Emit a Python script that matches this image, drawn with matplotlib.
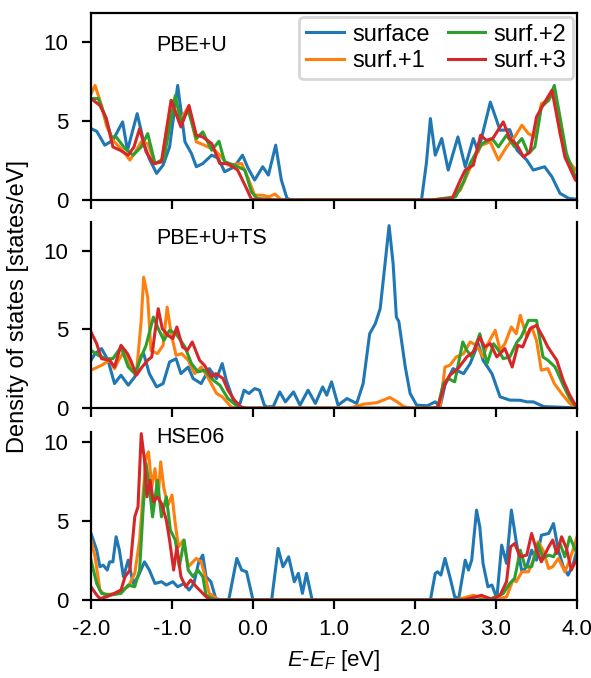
import matplotlib
matplotlib.use("Agg")
import matplotlib.pyplot as plt

plt.rcParams['font.family'] = ['Liberation Sans', 'DejaVu Sans']
plt.rcParams['mathtext.fontset'] = 'custom'
plt.rcParams['mathtext.rm'] = 'Liberation Sans'
plt.rcParams['mathtext.it'] = 'Liberation Sans:italic'

series_names = ["surface", "surf.+1", "surf.+2", "surf.+3"]
panel_names = ["PBE+U", "PBE+U+TS", "HSE06"]
x_ticks = [-2, -1, 0, 1, 2, 3, 4]
x_tick_labels = ["-2.0", "-1.0", "0.0", "1.0", "2.0", "3.0", "4.0"]
y_ticks = [0, 5, 10]

# ---- PBE+U ----
pbeu_surf_E = [-2.0, -1.93, -1.83, -1.73, -1.61, -1.55, -1.43, -1.34, -1.28, -1.19, -1.11, -1.03, -0.93, -0.84,
               -0.76, -0.70, -0.62, -0.51, -0.43, -0.35, -0.23, -0.13, -0.06, 0.02, 0.12, 0.19, 0.28, 0.35, 0.42,
               0.48, 2.08, 2.14, 2.19, 2.25, 2.33, 2.41, 2.53, 2.62, 2.72, 2.78, 2.93, 3.05, 3.17, 3.26, 3.38,
               3.46, 3.60, 3.69, 3.79, 3.90, 4.0]
pbeu_surf = [4.5, 4.34, 3.46, 3.77, 4.93, 3.14, 5.45, 3.46, 2.6, 1.68, 2.2, 3.35, 7.23, 3.67, 2.93, 2.1, 2.3, 2.83,
             2.64, 1.78, 2.1, 2.83, 2.0, 1.26, 2.1, 1.57, 3.46, 1.26, 0.1, 0.0, 0.0, 2.3, 5.14, 2.83, 3.88, 1.89,
             3.98, 2.1, 3.88, 3.04, 6.18, 4.4, 4.44, 3.14, 2.52, 1.89, 2.1, 1.47, 0.42, 0.1, 0.05]

pbeu_s1_E = [-2.0, -1.95, -1.87, -1.81, -1.73, -1.63, -1.52, -1.44, -1.38, -1.30, -1.21, -1.13, -1.01, -0.91, -0.80,
             -0.70, -0.60, -0.47, -0.39, -0.31, -0.14, -0.06, 0.02, 0.12, 0.20, 0.27, 0.35, 2.20, 2.40, 2.47, 2.56,
             2.66, 2.74, 2.82, 2.93, 3.03, 3.13, 3.23, 3.32, 3.40, 3.48, 3.56, 3.65, 3.71, 3.79, 3.87, 3.98, 4.0]
pbeu_s1 = [6.7, 7.23, 5.97, 4.7, 3.77, 3.25, 2.52, 3.14, 3.67, 3.56, 2.3, 2.41, 6.29, 4.93, 5.87, 3.67, 3.46, 3.14,
           2.72, 2.2, 2.3, 1.36, 0.31, 0.3, 0.2, 0.38, 0.0, 0.0, 0.1, 0.2, 0.63, 1.78, 2.72, 3.46, 3.67, 2.52, 3.35,
           3.98, 4.72, 4.19, 3.98, 6.08, 6.3, 6.81, 4.19, 2.62, 1.93, 1.85]

pbeu_s2_E = [-2.0, -1.91, -1.83, -1.75, -1.69, -1.58, -1.48, -1.38, -1.30, -1.21, -1.10, -0.96, -0.89, -0.80, -0.70,
             -0.62, -0.51, -0.42, -0.35, -0.23, -0.10, -0.02, 0.05, 0.3, 2.20, 2.50, 2.60, 2.68, 2.76, 2.83, 2.95,
             3.03, 3.13, 3.23, 3.32, 3.40, 3.48, 3.56, 3.65, 3.72, 3.79, 3.87, 3.98, 4.0]
pbeu_s2 = [6.4, 6.4, 5.35, 3.98, 3.98, 3.25, 2.83, 3.35, 4.19, 2.3, 2.6, 6.6, 4.93, 5.66, 3.88, 4.3, 3.14, 3.71,
           2.41, 2.2, 1.89, 0.52, 0.1, 0.0, 0.0, 0.2, 1.15, 2.3, 3.04, 3.56, 3.88, 3.35, 4.09, 3.35, 3.88, 2.93,
           3.35, 5.87, 6.3, 7.23, 5.24, 2.93, 1.47, 1.4]

pbeu_s3_E = [-2.0, -1.89, -1.81, -1.73, -1.64, -1.54, -1.47, -1.40, -1.32, -1.23, -1.13, -1.01, -0.89, -0.79, -0.70,
             -0.62, -0.51, -0.41, -0.31, -0.19, -0.08, -0.02, 0.3, 2.20, 2.46, 2.56, 2.62, 2.72, 2.81, 2.88, 2.96,
             3.09, 3.17, 3.26, 3.34, 3.42, 3.50, 3.59, 3.69, 3.77, 3.85, 3.98, 4.0]
pbeu_s3 = [6.4, 5.97, 5.14, 3.35, 3.14, 2.83, 3.35, 4.5, 3.04, 2.3, 2.41, 6.29, 4.61, 5.97, 4.09, 3.98, 3.56, 2.3,
           2.3, 1.89, 0.73, 0.05, 0.0, 0.0, 0.1, 1.26, 1.89, 2.2, 4.09, 3.77, 3.88, 4.93, 3.88, 3.46, 2.72, 3.04,
           5.24, 6.08, 6.92, 4.82, 2.72, 1.26, 1.2]

# ---- PBE+U+TS ----
ts_surf_E = [-2.0, -1.95, -1.87, -1.79, -1.71, -1.63, -1.54, -1.46, -1.38, -1.35, -1.28, -1.19, -1.11, -1.03, -0.95,
             -0.89, -0.80, -0.74, -0.64, -0.54, -0.45, -0.38, -0.33, -0.23, -0.16, -0.11, -0.05, 0.02, 0.08, 0.14,
             0.17, 0.25, 0.33, 0.40, 0.50, 0.58, 0.68, 0.77, 0.86, 0.91, 0.97, 1.05, 1.16, 1.28, 1.36, 1.44, 1.51,
             1.57, 1.63, 1.68, 1.73, 1.77, 1.80, 1.88, 1.94, 2.02, 2.15, 2.25, 2.31, 2.37, 2.47, 2.60, 2.68, 2.78,
             2.84, 2.95, 3.05, 3.17, 3.30, 3.38, 3.46, 3.59, 3.84, 4.0]
ts_surf = [3.04, 3.46, 3.78, 3.04, 1.56, 2.09, 1.46, 1.98, 3.35, 3.46, 2.19, 1.35, 1.56, 2.93, 3.14, 2.19, 2.61,
           1.88, 1.56, 2.51, 1.88, 2.83, 1.77, 0.3, 0.3, 1.14, 0.93, 1.24, 1.14, 0.19, 0.08, 0.1, 1.03, 0.4, 1.03,
           0.19, 1.14, 0.3, 1.35, 0.82, 1.67, 0.19, 0.61, 0.3, 1.56, 4.72, 5.36, 6.31, 9.16, 11.58, 9.16, 5.78,
           5.5, 2.61, 0.93, 0.19, 0.15, 0.4, 0.1, 1.46, 2.51, 2.19, 2.82, 4.09, 3.04, 2.19, 0.72, 0.51, 0.5, 0.4,
           0.4, 0.1, 0.05, 0.02]

ts_s1_E = [-2.0, -1.87, -1.77, -1.71, -1.65, -1.58, -1.52, -1.44, -1.38, -1.35, -1.30, -1.26, -1.18, -1.11, -1.06,
           -1.01, -0.95, -0.88, -0.80, -0.72, -0.64, -0.56, -0.45, -0.38, -0.27, -0.2, 1.2, 1.36, 1.53, 1.69, 1.78,
           1.86, 1.95, 2.25, 2.31, 2.37, 2.43, 2.51, 2.60, 2.68, 2.76, 2.84, 2.89, 2.99, 3.05, 3.11, 3.19, 3.25,
           3.30, 3.38, 3.44, 3.50, 3.56, 3.64, 3.72, 3.81, 3.91, 4.0]
ts_s1 = [2.41, 2.72, 3.04, 2.5, 3.14, 3.67, 2.61, 2.19, 5.57, 8.31, 7.04, 3.67, 3.46, 3.99, 6.41, 4.72, 3.35, 3.46,
         3.04, 2.19, 2.61, 1.98, 0.93, 0.72, 0.08, 0.0, 0.0, 0.25, 0.35, 0.68, 0.4, 0.1, 0.0, 0.0, 0.1, 2.61, 2.72,
         3.25, 3.46, 4.2, 3.99, 3.25, 3.99, 4.94, 3.67, 4.09, 5.15, 4.72, 5.89, 4.51, 5.15, 4.3, 2.41, 2.51, 1.56,
         0.93, 0.3, 0.02]

ts_s2_E = [-2.0, -1.91, -1.82, -1.73, -1.63, -1.54, -1.46, -1.38, -1.32, -1.23, -1.16, -1.10, -1.03, -0.95, -0.84,
           -0.76, -0.68, -0.60, -0.49, -0.41, -0.31, -0.21, -0.12, 2.20, 2.28, 2.35, 2.41, 2.49, 2.59, 2.64, 2.70,
           2.80, 2.89, 2.97, 3.03, 3.09, 3.17, 3.26, 3.31, 3.40, 3.50, 3.58, 3.64, 3.73, 3.83, 3.91, 4.0]
ts_s2 = [3.67, 3.35, 3.14, 3.14, 3.88, 2.61, 2.19, 3.25, 3.99, 5.78, 4.93, 4.3, 4.94, 4.72, 3.88, 2.83, 2.3, 2.41,
         1.77, 1.46, 0.61, 0.19, 0.0, 0.0, 0.05, 1.56, 1.88, 1.67, 4.2, 3.67, 3.25, 4.72, 2.83, 4.09, 3.67, 3.14,
         3.25, 4.2, 4.51, 5.57, 5.57, 3.25, 3.04, 2.61, 1.46, 0.61, 0.02]

ts_s3_E = [-2.0, -1.93, -1.87, -1.77, -1.71, -1.63, -1.55, -1.51, -1.44, -1.37, -1.30, -1.25, -1.21, -1.17, -1.12,
           -1.05, -0.99, -0.94, -0.87, -0.81, -0.75, -0.66, -0.60, -0.51, -0.46, -0.37, -0.31, -0.23, -0.15, -0.08,
           2.20, 2.28, 2.37, 2.43, 2.53, 2.64, 2.72, 2.80, 2.86, 2.93, 3.01, 3.11, 3.20, 3.27, 3.33, 3.42, 3.50,
           3.58, 3.64, 3.75, 3.83, 3.91, 4.0]
ts_s3 = [4.83, 4.09, 3.14, 3.04, 2.61, 3.99, 3.46, 3.04, 2.09, 2.61, 3.04, 3.25, 4.83, 6.31, 5.04, 4.62, 4.41, 5.15,
         3.88, 3.67, 4.2, 3.04, 2.72, 1.98, 2.19, 1.88, 1.14, 0.51, 0.08, 0.0, 0.0, 0.05, 1.56, 2.09, 2.51, 3.25,
         3.57, 4.51, 3.88, 4.09, 3.25, 3.78, 2.61, 3.99, 3.88, 5.04, 5.25, 4.51, 3.88, 3.04, 1.77, 0.83, 0.02]

# ---- HSE06 ----
hse_surf_E = [-2.0, -1.93, -1.89, -1.85, -1.80, -1.77, -1.73, -1.69, -1.65, -1.60, -1.54, -1.48, -1.42, -1.34, -1.28,
              -1.21, -1.13, -1.07, -0.99, -0.93, -0.85, -0.79, -0.73, -0.67, -0.62, -0.58, -0.52, -0.46, -0.40,
              -0.30, -0.20, -0.14, -0.08, 0.0, 0.23, 0.31, 0.37, 0.44, 0.51, 0.56, 0.61, 0.66, 0.73, 2.19, 2.25,
              2.28, 2.32, 2.37, 2.43, 2.49, 2.54, 2.62, 2.66, 2.70, 2.76, 2.80, 2.84, 2.90, 2.95, 3.01, 3.07, 3.13,
              3.19, 3.25, 3.32, 3.38, 3.44, 3.50, 3.56, 3.65, 3.71, 3.77, 3.83, 3.89, 3.95, 4.0]
hse_surf = [4.22, 3.16, 2.11, 2.21, 1.9, 2.42, 2.42, 4.01, 3.16, 1.48, 2.53, 1.05, 1.48, 2.42, 1.9, 1.05, 1.16, 0.95,
            1.16, 0.84, 1.05, 0.63, 1.05, 2.42, 2.85, 1.48, 1.16, 0.1, 0.0, 0.0, 2.64, 1.9, 1.79, 0.0, 0.0, 3.27,
            2.11, 2.74, 1.16, 1.69, 0.42, 1.69, 0.0, 0.0, 1.69, 1.79, 1.58, 2.64, 1.48, 0.21, 0.1, 2.53, 1.9, 2.53,
            5.7, 4.64, 2.32, 0.84, 0.95, 0.1, 3.48, 2.32, 5.7, 3.69, 1.79, 2.11, 3.16, 2.53, 4.11, 4.22, 4.85, 3.16,
            2.11, 1.58, 2.22, 3.16]

hse_s1_E = [-2.0, -1.95, -1.89, -1.83, -1.71, -1.63, -1.54, -1.46, -1.40, -1.36, -1.32, -1.29, -1.25, -1.21, -1.17,
            -1.14, -1.10, -1.05, -1.00, -0.96, -0.92, -0.86, -0.80, -0.76, -0.70, -0.64, -0.59, -0.54, -0.48, -0.44,
            2.5, 2.72, 2.85, 3.05, 3.13, 3.21, 3.25, 3.32, 3.40, 3.46, 3.52, 3.58, 3.65, 3.70, 3.77, 3.85, 3.91, 4.0]
hse_s1 = [3.8, 2.74, 0.63, 0.32, 0.42, 0.63, 0.84, 1.69, 3.8, 6.54, 9.07, 9.39, 7.17, 8.33, 6.54, 8.76, 7.07, 6.01,
          6.65, 4.85, 3.37, 3.8, 2.11, 2.32, 2.64, 2.42, 1.48, 0.42, 0.21, 0.0, 0.0, 0.3, 0.1, 0.1, 0.2, 1.27, 1.16,
          1.79, 1.79, 2.53, 3.69, 3.16, 2.0, 2.11, 2.64, 1.79, 2.53, 4.0]

hse_s2_E = [-2.0, -1.93, -1.87, -1.75, -1.63, -1.54, -1.46, -1.40, -1.36, -1.32, -1.28, -1.24, -1.18, -1.13, -1.07,
            -1.02, -0.96, -0.91, -0.85, -0.80, -0.74, -0.68, -0.62, -0.58, -0.50, -0.45, 2.9, 3.09, 3.17, 3.23,
            3.30, 3.36, 3.44, 3.52, 3.58, 3.65, 3.71, 3.79, 3.85, 3.91, 4.0]
hse_s2 = [2.53, 1.05, 0.42, 0.32, 0.42, 0.95, 0.84, 1.9, 5.49, 8.65, 7.17, 5.27, 7.59, 5.27, 6.54, 4.43, 3.8, 2.11,
          3.8, 1.9, 1.48, 1.9, 1.48, 0.32, 0.1, 0.0, 0.0, 0.42, 1.05, 1.37, 3.16, 2.11, 2.11, 3.58, 2.64, 2.85,
          2.74, 3.58, 2.74, 4.0, 2.95]

hse_s3_E = [-2.0, -1.93, -1.89, -1.81, -1.71, -1.63, -1.58, -1.52, -1.46, -1.42, -1.38, -1.34, -1.31, -1.27, -1.23,
            -1.18, -1.13, -1.07, -1.03, -0.98, -0.94, -0.89, -0.83, -0.77, -0.70, -0.64, -0.58, -0.52, 2.6, 2.82,
            2.95, 3.05, 3.13, 3.18, 3.23, 3.30, 3.38, 3.44, 3.50, 3.56, 3.65, 3.70, 3.75, 3.81, 3.87, 3.93, 4.0]
hse_s3 = [0.84, 0.32, 0.1, 0.2, 0.42, 0.63, 1.48, 1.9, 5.27, 5.91, 10.55, 8.86, 6.54, 7.59, 6.22, 6.54, 6.12, 5.06,
          3.8, 1.9, 3.37, 1.48, 0.84, 1.27, 0.84, 0.53, 0.21, 0.0, 0.0, 0.3, 0.05, 0.3, 1.16, 3.37, 3.58, 2.74,
          2.85, 4.22, 3.16, 2.42, 3.37, 3.8, 2.95, 4.01, 3.27, 1.9, 2.64]

panels = [
    [(pbeu_surf_E, pbeu_surf), (pbeu_s1_E, pbeu_s1), (pbeu_s2_E, pbeu_s2), (pbeu_s3_E, pbeu_s3)],
    [(ts_surf_E, ts_surf), (ts_s1_E, ts_s1), (ts_s2_E, ts_s2), (ts_s3_E, ts_s3)],
    [(hse_surf_E, hse_surf), (hse_s1_E, hse_s1), (hse_s2_E, hse_s2), (hse_s3_E, hse_s3)],
]
colors = ["tab:blue", "tab:orange", "tab:green", "tab:red"]

fig = plt.figure(figsize=(5.91, 6.78), dpi=100)
# axes boxes in figure fractions (left, bottom, width, height)
boxes = [(0.154, 0.705, 0.8223, 0.2758),
         (0.154, 0.398, 0.8223, 0.2743),
         (0.154, 0.115, 0.8223, 0.2478)]
ytops = [11.8, 11.8, 10.65]
label_y = [9.75, 10.75, 10.3]

axes = []
for i, box in enumerate(boxes):
    ax = fig.add_axes(box)
    for j, (E, dos) in enumerate(panels[i]):
        ax.plot(E, dos, color=colors[j], lw=2.2, label=series_names[j])
    ax.set_xlim(-2, 4)
    ax.set_ylim(0, ytops[i])
    ax.set_xticks(x_ticks)
    ax.set_yticks(y_ticks)
    ax.tick_params(direction='out', length=6.5, width=1.6, pad=7, labelsize=16)
    ax.tick_params(axis='y', pad=10)
    for s in ax.spines.values():
        s.set_linewidth(1.6)
    if i > 0:
        ax.spines['top'].set_visible(False)
    if i < 2:
        ax.set_xticklabels([])
    else:
        ax.set_xticklabels(x_tick_labels)
    ax.text(-1.2, label_y[i], panel_names[i], fontsize=15.5, va='center', ha='left')
    axes.append(ax)

leg = axes[0].legend(loc='upper right', ncol=2, fontsize=17, handlelength=1.6, handletextpad=0.35,
                     columnspacing=0.75, labelspacing=0.2, borderpad=0.3, borderaxespad=0.15)
leg.get_frame().set_linewidth(2)

axes[2].set_xlabel(r"$E$-$E_F$ [eV]", fontsize=16, labelpad=6)
fig.text(0.03, 0.548, "Density of states [states/eV]", rotation=90, fontsize=17, va='center', ha='center')

fig.savefig("out.png", dpi=100)
